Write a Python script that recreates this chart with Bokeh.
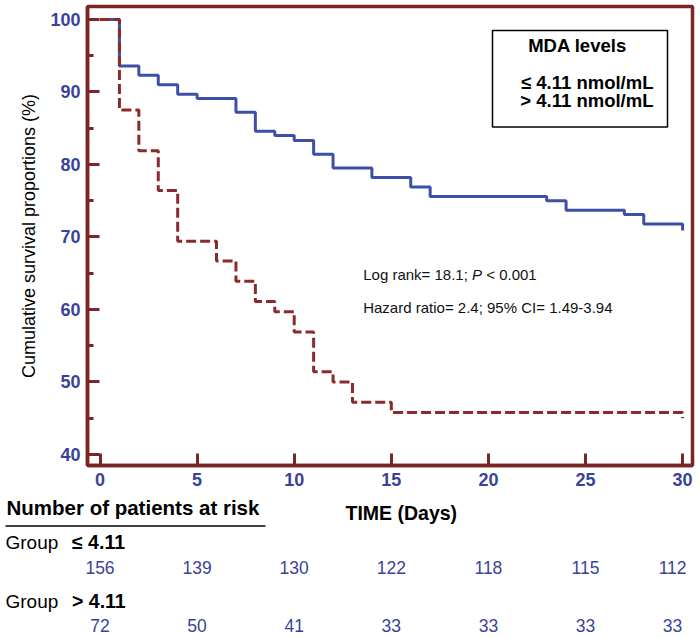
from bokeh.plotting import figure
from bokeh.models import Range1d, FixedTicker, Label, BoxAnnotation
from bokeh.layouts import column
from bokeh.core.properties import value
from bokeh.embed import file_html
from bokeh.resources import INLINE

# ---------------- data ----------------
low_times = [0, 1, 2, 3, 4, 5, 7, 8, 9, 10, 11, 12, 14, 16, 17, 23, 24, 27, 28, 30]
low_surv = [100, 93.6, 92.3, 91.0, 89.7, 89.1, 87.2, 84.6, 84.0, 83.3, 81.4,
            79.5, 78.2, 76.9, 75.6, 75.0, 73.7, 73.1, 71.8, 70.9]
high_times = [0, 1, 2, 3, 4, 6, 7, 8, 9, 10, 11, 12, 13, 15, 30]
high_surv = [100, 87.5, 81.9, 76.4, 69.4, 66.7, 63.9, 61.1, 59.7, 56.9, 51.4,
             50.0, 47.2, 45.8, 45.0]
risk_days = [0, 5, 10, 15, 20, 25, 30]
risk_low = [156, 139, 130, 122, 118, 115, 112]
risk_high = [72, 50, 41, 33, 33, 33, 33]
x_ticks = [0, 5, 10, 15, 20, 25, 30]
y_ticks = [40, 50, 60, 70, 80, 90, 100]
y_minor = [45, 55, 65, 75, 85, 95]

# ---------------- styles / layout ----------------
FONT = "Liberation Sans"
AXIS = "#7b2525"
BLUE_LINE = "#3d4fa6"
RED_LINE = "#8b2a2a"
TICK_BLUE = "#3a4399"

W = 700
H1, H2 = 496, 141
FL, FR, FT, FB = 87, 692, 6, 465          # frame edges in page pixels
X0, X1 = -0.644, 30.51
Y0, Y1 = 38.48, 101.79


def xv(px):
    """page x pixel -> data x"""
    return X0 + (px - FL) * (X1 - X0) / (FR - FL)


def yv(py):
    """page y pixel -> data y (main plot)"""
    return Y1 - (py - FT) * (Y1 - Y0) / (FB - FT)


p = figure(width=W, height=H1, output_backend="svg", toolbar_location=None,
           title=None, x_range=Range1d(X0, X1), y_range=Range1d(Y0, Y1),
           min_border_left=FL, min_border_right=W - FR,
           min_border_top=FT, min_border_bottom=H1 - FB)
p.frame_align = False
p.grid.visible = False
p.background_fill_color = "white"
p.border_fill_color = "white"
p.outline_line_color = AXIS
p.outline_line_width = 3.5
p.outline_line_alpha = 1.0

p.xaxis.ticker = FixedTicker(ticks=x_ticks)
p.yaxis.ticker = FixedTicker(ticks=y_ticks, minor_ticks=y_minor)
for ax in (p.xaxis[0], p.yaxis[0]):
    ax.axis_line_color = AXIS
    ax.axis_line_width = 3.5
    ax.major_tick_line_color = AXIS
    ax.major_tick_line_width = 3
    ax.major_tick_in = 12
    ax.major_tick_out = 0
    ax.minor_tick_line_color = AXIS
    ax.minor_tick_line_width = 3
    ax.minor_tick_in = 6
    ax.minor_tick_out = 0
    ax.major_label_text_font = FONT
    ax.major_label_text_font_size = "18px"
    ax.major_label_text_font_style = "bold"
    ax.major_label_text_color = TICK_BLUE
    ax.major_label_standoff = 7
p.yaxis.axis_label = "Cumulative survival proportions (%)"
p.yaxis.axis_label_text_font = FONT
p.yaxis.axis_label_text_font_size = "18px"
p.yaxis.axis_label_text_font_style = "normal"
p.yaxis.axis_label_text_color = "black"
p.yaxis.axis_label_standoff = 8

# survival curves
p.step(low_times, low_surv, mode="after", line_color=BLUE_LINE, line_width=3)
p.step(high_times, high_surv, mode="after", line_color=RED_LINE, line_width=3,
       line_dash="10 4")

# legend box
p.add_layout(BoxAnnotation(left=xv(492), right=xv(667), top=yv(30), bottom=yv(126.5),
                           fill_color="white", fill_alpha=1.0,
                           line_color="black", line_width=1.5, line_alpha=1.0))
leg = dict(text_baseline="middle", text_font=FONT, text_font_size="18.5px",
           text_font_style="bold", text_color="black")
p.add_layout(Label(x=xv(577), y=yv(45), text="MDA levels", text_align="center", **leg))
p.add_layout(Label(x=xv(653), y=yv(81.7), text="\u2264 4.11 nmol/mL", text_align="right", **leg))
p.add_layout(Label(x=xv(653), y=yv(100), text="> 4.11 nmol/mL", text_align="right", **leg))

# statistics annotation
ann = dict(text_baseline="middle", text_font=FONT, text_font_size="15px",
           text_color="#111111")
ax0 = xv(362.7)
p.add_layout(Label(x=ax0, y=yv(274), text="Log rank= 18.1;", **ann))
p.add_layout(Label(x=ax0, y=yv(274), x_offset=108.8, text="P",
                   text_font_style="italic", **ann))
p.add_layout(Label(x=ax0, y=yv(274), x_offset=123.0, text="< 0.001", **ann))
p.add_layout(Label(x=ax0, y=yv(306.7), text="Hazard ratio= 2.4; 95% CI= 1.49-3.94", **ann))

# ---------------- at-risk table (second figure, same day scale) ----------------
ppd = (FR - FL) / (X1 - X0)
QX0 = X0 - FL / ppd
QX1 = X0 + (W - FL) / ppd

q = figure(width=W, height=H2, output_backend="svg", toolbar_location=None,
           title=None, x_range=Range1d(QX0, QX1), y_range=Range1d(H2, 0),
           x_axis_location=None, y_axis_location=None,
           min_border_left=0, min_border_right=0, min_border_top=0, min_border_bottom=0)
q.frame_align = False
q.grid.visible = False
q.outline_line_color = None
q.background_fill_color = "white"
q.border_fill_color = "white"


def qy(py):
    """page y pixel -> table y"""
    return py - H1


fnt = value(FONT)
q.text(x=[xv(6)], y=[qy(507)], text=["Number of patients at risk"], text_font=fnt,
       text_font_size="20.5px", text_font_style="bold", text_color="black",
       text_baseline="middle", text_align="left")
q.segment(x0=[xv(5)], y0=[qy(525.5)], x1=[xv(265)], y1=[qy(525.5)],
          line_color="black", line_width=1.5)
q.text(x=[xv(345)], y=[qy(512)], text=["TIME (Days)"], text_font=fnt,
       text_font_size="19.5px", text_font_style="bold", text_color="black",
       text_baseline="middle", text_align="left")

q.text(x=[xv(5), xv(5)], y=[qy(541.5), qy(600.5)], text=["Group", "Group"],
       text_font=fnt, text_font_size="19px", text_color="black",
       text_baseline="middle", text_align="left")
q.text(x=[xv(71.5), xv(71.5)], y=[qy(541.5), qy(600.5)], text=["\u2264 4.11", "> 4.11"],
       text_font=fnt, text_font_size="19.5px", text_font_style="bold", text_color="black",
       text_baseline="middle", text_align="left")

offsets = [0, 0, 0, 0, 0, 0, -10]
for counts, ry in ((risk_low, 566.5), (risk_high, 625)):
    q.text(x=risk_days, y=[qy(ry)] * len(risk_days), text=[str(n) for n in counts],
           x_offset=offsets, text_font=fnt, text_font_size="17.5px",
           text_color=TICK_BLUE, text_baseline="middle", text_align="center")

layout = column(p, q, spacing=0)
open("out.html", "w").write(file_html(layout, INLINE))
